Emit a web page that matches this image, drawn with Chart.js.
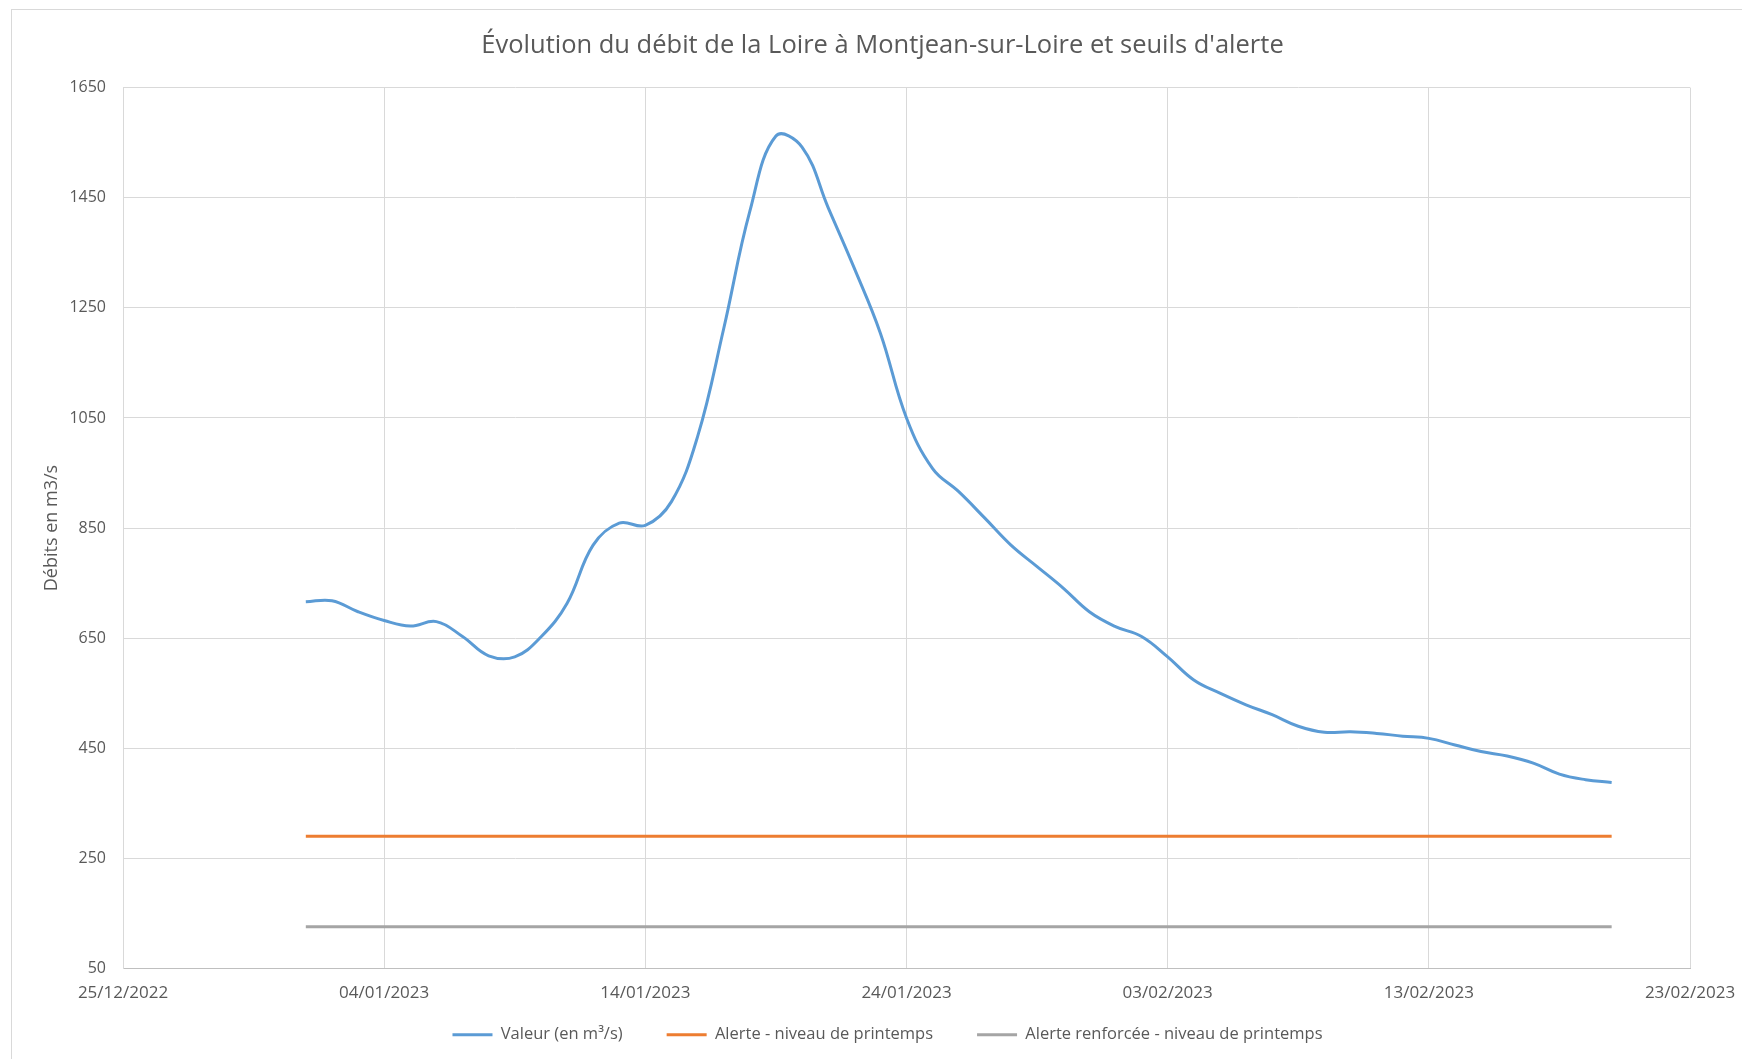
<!DOCTYPE html>
<html>
<head>
<meta charset="utf-8">
<script src="https://cdn.jsdelivr.net/npm/chart.js@4.4.1/dist/chart.umd.min.js"></script>
<style>
  html, body { margin: 0; padding: 0; background: #ffffff; overflow: hidden; }
  #frame { position: absolute; left: 11px; top: 9px; width: 1800px; height: 1100px; border: 1px solid #D9D9D9; box-sizing: border-box; }
  #wrap { position: absolute; left: 0; top: 0; width: 1742px; height: 1059px; }
</style>
</head>
<body>
<div id="frame"></div>
<div id="wrap"><canvas id="c" width="1742" height="1059"></canvas></div>
<script>
// ---- Data ----
const chartTitle = "Évolution du débit de la Loire à Montjean-sur-Loire et seuils d'alerte";
const yAxisTitle = "Débits en m3/s";
const seriesNames = ["Valeur (en m³/s)", "Alerte - niveau de printemps", "Alerte renforcée - niveau de printemps"];

const dates = [
  "01/01/2023","02/01/2023","03/01/2023","04/01/2023","05/01/2023","06/01/2023","07/01/2023",
  "08/01/2023","09/01/2023","10/01/2023","11/01/2023","12/01/2023","13/01/2023","14/01/2023",
  "15/01/2023","16/01/2023","17/01/2023","18/01/2023","19/01/2023","20/01/2023","21/01/2023",
  "22/01/2023","23/01/2023","24/01/2023","25/01/2023","26/01/2023","27/01/2023","28/01/2023",
  "29/01/2023","30/01/2023","31/01/2023","01/02/2023","02/02/2023","03/02/2023","04/02/2023",
  "05/02/2023","06/02/2023","07/02/2023","08/02/2023","09/02/2023","10/02/2023","11/02/2023",
  "12/02/2023","13/02/2023","14/02/2023","15/02/2023","16/02/2023","17/02/2023","18/02/2023",
  "19/02/2023","20/02/2023"
];
const debits = [
  716, 718, 698, 682, 672, 680, 653,
  618, 616, 652, 713, 819, 859, 855,
  898, 1016, 1212, 1425, 1562, 1542, 1432,
  1322, 1204, 1050, 958, 916, 868, 819,
  780, 741, 698, 671, 653, 616, 574,
  550, 529, 511, 490, 479, 480, 477,
  472, 468, 456, 444, 436, 423, 403,
  393, 388
];
const alerteNiveau = 290;
const alerteRenforcee = 126;

const axisStart = "25/12/2022";
const axisEnd = "23/02/2023";
const xStepDays = 10;
const yMin = 50, yMax = 1650, yStep = 200;

// ---- Helpers ----
const DAY = 86400000;
function parseDate(s) { const [d, m, y] = s.split("/").map(Number); return Date.UTC(y, m - 1, d); }
const base = parseDate(axisStart);
function toDays(s) { return Math.round((parseDate(s) - base) / DAY); }
function fmt(days) {
  const dt = new Date(base + days * DAY);
  const dd = String(dt.getUTCDate()).padStart(2, "0");
  const mm = String(dt.getUTCMonth() + 1).padStart(2, "0");
  return dd + "/" + mm + "/" + dt.getUTCFullYear();
}
const xs = dates.map(toDays);

const FONT = "'Open Sans', 'Liberation Sans', sans-serif";
const TXT = "#595959";
const GRID = "#D9D9D9";

// Centre the title and legend on the framed chart rather than the canvas.
const recentre = {
  id: "recentre",
  afterLayout(chart) {
    if (chart.titleBlock) chart.titleBlock.left += 75;
    if (chart.legend) chart.legend.left += 85;
  }
};

new Chart(document.getElementById("c"), {
  type: "line",
  plugins: [recentre],
  data: {
    datasets: [
      { label: seriesNames[0], data: xs.map((x, i) => ({x, y: debits[i]})),
        borderColor: "#5B9BD5", backgroundColor: "#5B9BD5", borderWidth: 3,
        pointRadius: 0, pointStyle: "line", tension: 0.4, fill: false },
      { label: seriesNames[1], data: xs.map(x => ({x, y: alerteNiveau})),
        borderColor: "#ED7D31", backgroundColor: "#ED7D31", borderWidth: 3,
        pointRadius: 0, pointStyle: "line", tension: 0, fill: false },
      { label: seriesNames[2], data: xs.map(x => ({x, y: alerteRenforcee})),
        borderColor: "#A5A5A5", backgroundColor: "#A5A5A5", borderWidth: 3,
        pointRadius: 0, pointStyle: "line", tension: 0, fill: false }
    ]
  },
  options: {
    responsive: false,
    animation: false,
    devicePixelRatio: 1,
    layout: { padding: { left: 0, right: 52, top: 0, bottom: 6 } },
    plugins: {
      title: {
        display: true, text: chartTitle, color: TXT,
        font: { family: FONT, size: 25.5, weight: "normal" },
        padding: { top: 30, bottom: 27 }
      },
      legend: {
        position: "bottom",
        labels: {
          usePointStyle: true, pointStyleWidth: 40, padding: 44,
          color: TXT, font: { family: FONT, size: 16.5 }
        }
      },
      tooltip: { enabled: false }
    },
    scales: {
      x: {
        type: "linear", min: toDays(axisStart), max: toDays(axisEnd),
        ticks: { stepSize: xStepDays, callback: v => fmt(v), color: TXT,
                 font: { family: FONT, size: 17 }, padding: 14, maxRotation: 0 },
        grid: { color: GRID, lineWidth: 1, drawTicks: false, tickLength: 0 },
        border: { color: "#BFBFBF", width: 1 },
        afterFit: s => {
          s.height = 14; s.paddingLeft = 0; s.paddingRight = 0;
          s._computeLabelArea = () => undefined;
        }
      },
      y: {
        min: yMin, max: yMax,
        ticks: { stepSize: yStep, color: TXT, font: { family: FONT, size: 16 }, padding: 17,
                 callback: v => String(v) },
        grid: { color: GRID, lineWidth: 1, drawTicks: false, tickLength: 0 },
        border: { color: GRID, width: 1 },
        title: { display: true, text: yAxisTitle, color: TXT,
                 font: { family: FONT, size: 18 }, padding: { top: 41, bottom: 0 } },
        afterFit: s => { s.width = 123; }
      }
    }
  }
});
</script>
</body>
</html>
